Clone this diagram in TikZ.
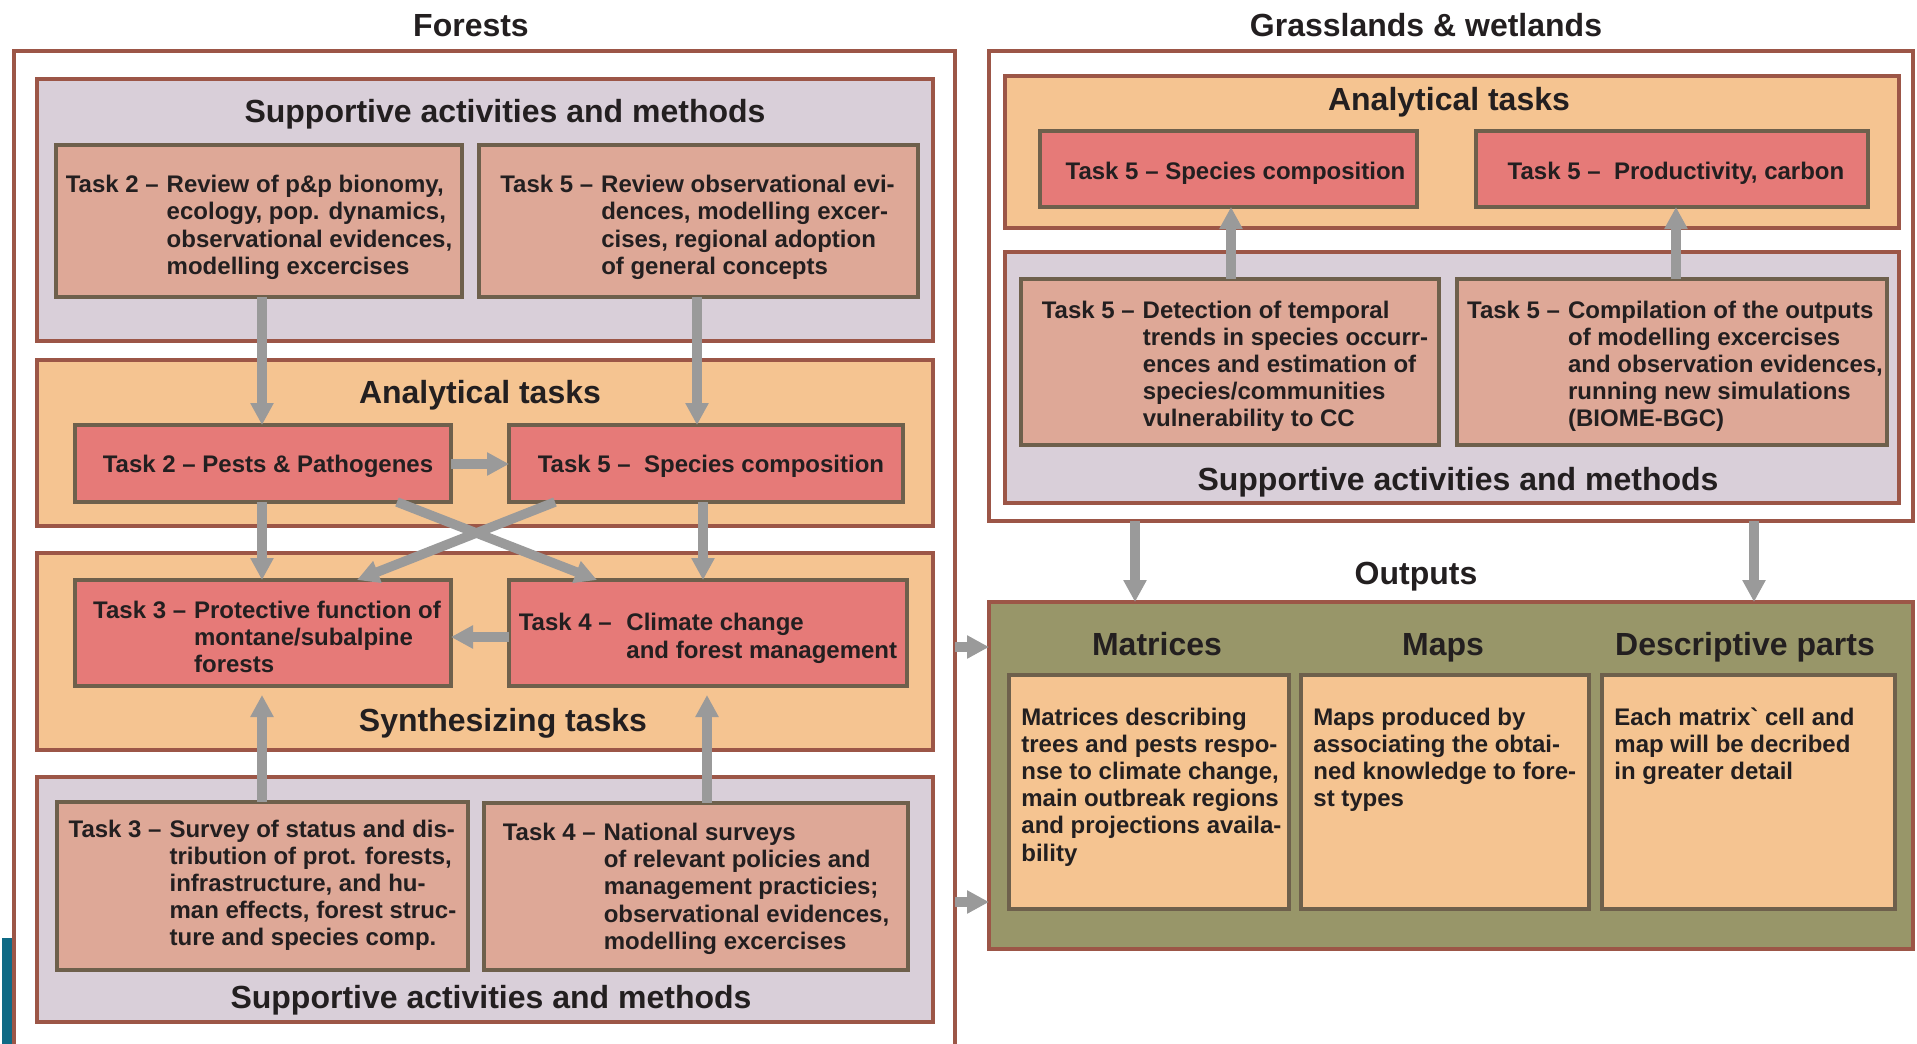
\documentclass[tikz,border=0pt]{standalone}
\usepackage{fontspec}
\setmainfont{Liberation Sans}
\usetikzlibrary{arrows.meta,fit,calc}
\definecolor{brn}{HTML}{9C5647}
\definecolor{lav}{HTML}{D9CFD9}
\definecolor{peach}{HTML}{F5C491}
\definecolor{salmon}{HTML}{DEA897}
\definecolor{coral}{HTML}{E67A78}
\definecolor{tbord}{HTML}{6E604C}
\definecolor{olive}{HTML}{989669}
\definecolor{arrg}{HTML}{9A9A9A}
\definecolor{txt}{HTML}{231F20}
\definecolor{teal1}{HTML}{0F6A85}
\newcommand\tk[2]{\begin{tabular}{@{}l@{\hspace{4pt}}l@{}}#1&#2\end{tabular}}
\newcommand\olines[1]{\begin{tabular}[t]{@{}l@{}}#1\end{tabular}}
\begin{document}
\begin{tikzpicture}[x=0.5pt,y=-0.5pt,
  frame/.style={draw=brn, line width=2.2pt, inner sep=0pt, outer sep=0pt},
  outerbox/.style={frame, fill=white},
  supbox/.style={frame, fill=lav},
  anabox/.style={frame, fill=peach},
  outbox/.style={frame, fill=olive},
  tsk/.style={draw=tbord, line width=2.2pt, inner sep=0pt, outer sep=0pt, fill=salmon},
  tskr/.style={tsk, fill=coral},
  obox/.style={tsk, fill=peach},
  ttext/.style={inner sep=0pt, anchor=center, text=txt, font=\fontsize{12}{13.6}\selectfont\bfseries},
  otext/.style={inner sep=0pt, anchor=base west, text=txt, font=\fontsize{12}{13.6}\selectfont\bfseries},
  title/.style={font=\fontsize{16}{18}\selectfont\bfseries, text height=11.5pt, text depth=0pt, inner sep=0pt, text=txt},
  arr/.style={draw=arrg, line width=4.75pt, -{Triangle[width=11pt,length=11pt]}}
]
\clip (0,0) rectangle (1917,1044);
\useasboundingbox (0,0) rectangle (1917,1044);
\fill[teal1] (2,938) rectangle (12,1044);

% outer frames
\node[outerbox, fit={(14,51)(955,1060)}] (forest) {};
\node[outerbox, fit={(989,51)(1913,521)}] (grass) {};
\node[outbox, fit={(989,602)(1913,949)}] (outs) {};

% containers (forests)
\node[supbox, fit={(37,79)(933,341)}] (fsup1) {};
\node[anabox, fit={(37,360)(933,526)}] (fana) {};
\node[anabox, fit={(37,553)(933,750)}] (fsyn) {};
\node[supbox, fit={(37,777)(933,1022)}] (fsup2) {};
% containers (grasslands)
\node[anabox, fit={(1005,76)(1899,228)}] (gana) {};
\node[supbox, fit={(1005,252)(1899,503)}] (gsup) {};

% titles
\node[title] (tforests) at (471,25) {Forests};
\node[title] (tgrass) at (1426,25) {Grasslands \& wetlands};
\node[title] (tsup1) at (505,111) {Supportive activities and methods};
\node[title] (tana1) at (480,392) {Analytical tasks};
\node[title] (tsyn) at (503,720) {Synthesizing tasks};
\node[title] (tsup2) at (491,997) {Supportive activities and methods};
\node[title] (tana2) at (1449,99) {Analytical tasks};
\node[title] (tsup3) at (1458,479) {Supportive activities and methods};
\node[title] (touts) at (1416,573) {Outputs};
\node[title] (tmat) at (1157,644) {Matrices};
\node[title] (tmaps) at (1443,644) {Maps};
\node[title] (tdesc) at (1745,644) {Descriptive parts};

% task boxes (forests)
\node[tsk, fit={(56,145)(462,297)}] (t2rev) {};
\node[tsk, fit={(479,145)(918,297)}] (t5rev) {};
\node[tskr, fit={(75,425)(451,502)}] (t2pp) {};
\node[tskr, fit={(509,425)(903,502)}] (t5sc) {};
\node[tskr, fit={(75,580)(451,686)}] (t3pf) {};
\node[tskr, fit={(509,580)(907,686)}] (t4cc) {};
\node[tsk, fit={(57,802)(468,970)}] (t3sv) {};
\node[tsk, fit={(484,803)(908,970)}] (t4ns) {};
% task boxes (grasslands)
\node[tskr, fit={(1040,131)(1417,207)}] (g5sc) {};
\node[tskr, fit={(1476,131)(1868,207)}] (g5pc) {};
\node[tsk, fit={(1021,279)(1439,445)}] (g5dt) {};
\node[tsk, fit={(1457,279)(1887,445)}] (g5cp) {};
% output boxes
\node[obox, fit={(1009,675)(1289,909)}] (mbox) {};
\node[obox, fit={(1301,675)(1589,909)}] (pbox) {};
\node[obox, fit={(1602,675)(1895,909)}] (dbox) {};

% task texts
\node[ttext] (t2revtxt) at ($(t2rev.center)+(0,7)$) {\tk{Task 2 –}{Review of p\&p bionomy,\\ & ecology, pop. dynamics,\\ & observational evidences,\\ & modelling excercises}};
\node[ttext] (t5revtxt) at ($(t5rev.center)+(-1,7)$) {\tk{Task 5 –}{Review observational evi-\\ & dences, modelling excer-\\ & cises, regional adoption\\ & of general concepts}};
\node[ttext] (t2pptxt) at ($(t2pp.center)+(5,3)$) {Task 2 – Pests \& Pathogenes};
\node[ttext] (t5sctxt) at ($(t5sc.center)+(5,3)$) {Task 5 –\ \ Species composition};
\node[ttext] (t3pftxt) at ($(t3pf.center)+(4,7)$) {\tk{Task 3 –}{Protective function of\\ & montane/subalpine\\ & forests}};
\node[ttext] (t4cctxt) at ($(t4cc.center)+(0,6)$) {\tk{Task 4 –}{\ Climate change\\ & \ and forest management}};
\node[ttext] (t3svtxt) at (t3sv.center) {\tk{Task 3 –}{Survey of status and dis-\\ & tribution of prot. forests,\\ & infrastructure, and hu-\\ & man effects, forest struc-\\ & ture and species comp.}};
\node[ttext] (t4nstxt) at ($(t4ns.center)+(0,3)$) {\tk{Task 4 –}{National surveys\\ & of relevant policies and\\ & management practicies;\\ & observational evidences,\\ & modelling excercises}};
\node[ttext] (g5sctxt) at ($(g5sc.center)+(7,4)$) {Task 5 – Species composition};
\node[ttext] (g5pctxt) at ($(g5pc.center)+(4,4)$) {Task 5 –\ \ Productivity, carbon};
\node[ttext] (g5dttxt) at ($(g5dt.center)+(5,5)$) {\tk{Task 5 –}{Detection of temporal\\ & trends in species occurr-\\ & ences and estimation of\\ & species/communities\\ & vulnerability to CC}};
\node[ttext] (g5cptxt) at ($(g5cp.center)+(3,5)$) {\tk{Task 5 –}{Compilation of the outputs\\ & of modelling excercises\\ & and observation evidences,\\ & running new simulations\\ & (BIOME-BGC)}};
\node[otext] (mtxt) at ($(mbox.north west)+(12,50)$) {\olines{Matrices describing\\ trees and pests respo-\\ nse to climate change,\\ main outbreak regions\\ and projections availa-\\ bility}};
\node[otext] (ptxt) at ($(pbox.north west)+(12,50)$) {\olines{Maps produced by\\ associating the obtai-\\ ned knowledge to fore-\\ st types}};
\node[otext] (dtxt) at ($(dbox.north west)+(12,50)$) {\olines{Each matrix\textasciigrave{} cell and\\ map will be decribed\\ in greater detail}};

% helper coordinates for connector positions
\coordinate (xa) at (262,0);
\coordinate (xb) at (697,0);
\coordinate (xc) at (703,0);
\coordinate (xd) at (397,0);
\coordinate (xe) at (597,0);
\coordinate (xf) at (555,0);
\coordinate (xg) at (357,0);
\coordinate (xh) at (707,0);
\coordinate (xi) at (1231,0);
\coordinate (xj) at (1676,0);
\coordinate (xk) at (1135,0);
\coordinate (xl) at (1754,0);
\coordinate (ya) at (0,464);
\coordinate (yb) at (0,637);
\coordinate (yc) at (0,647);
\coordinate (yd) at (0,902);

% connectors
\draw[arr] (t2rev.south -| xa) -- (t2pp.north -| xa);
\draw[arr] (t5rev.south -| xb) -- (t5sc.north -| xb);
\draw[arr] (t2pp.east |- ya) -- (t5sc.west |- ya);
\draw[arr] (t2pp.south -| xa) -- (t3pf.north -| xa);
\draw[arr] (t5sc.south -| xc) -- (t4cc.north -| xc);
\draw[arr] (t2pp.south -| xd) -- (t4cc.north -| xe);
\draw[arr] (t5sc.south -| xf) -- (t3pf.north -| xg);
\draw[arr] (t4cc.west |- yb) -- (t3pf.east |- yb);
\draw[arr, shorten >=4.5pt] (t3sv.north -| xa) -- (t3pf.south -| xa);
\draw[arr, shorten >=4.5pt] (t4ns.north -| xh) -- (t4cc.south -| xh);
\draw[arr] (g5dt.north -| xi) -- (g5sc.south -| xi);
\draw[arr] (g5cp.north -| xj) -- (g5pc.south -| xj);
\draw[arr] (grass.south -| xk) -- (outs.north -| xk);
\draw[arr] (grass.south -| xl) -- (outs.north -| xl);
\draw[arr] (forest.east |- yc) -- (outs.west |- yc);
\draw[arr] (forest.east |- yd) -- (outs.west |- yd);
\end{tikzpicture}
\end{document}
